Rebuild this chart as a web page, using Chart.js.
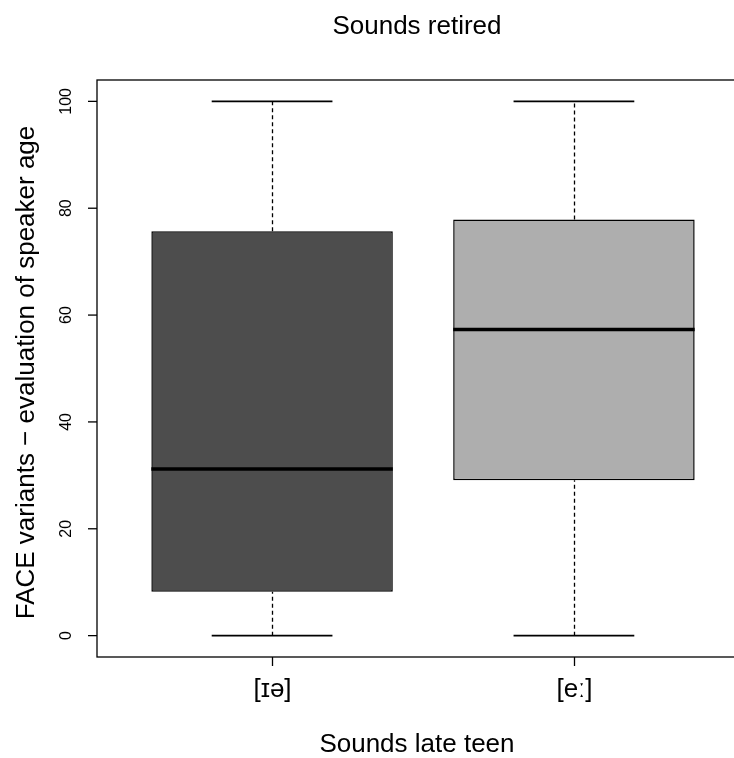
<!DOCTYPE html>
<html>
<head>
<meta charset="utf-8">
<title>Sounds retired</title>
<script src="https://cdn.jsdelivr.net/npm/chart.js@4.4.1/dist/chart.umd.min.js"></script>
<style>
  html, body { margin: 0; padding: 0; background: #fff; overflow: hidden; }
  /* the plot region runs past the right edge, so the wrapper clips it */
  #chdiv { width: 734px; height: 758px; overflow: hidden; }
</style>
</head>
<body>
<div id="chdiv"><canvas id="boxchart" width="760" height="758"></canvas></div>
<script>
// five-number summaries per group
const categories = ['[ɪə]', '[eː]'];
const whiskerLow = [0, 0];
const lowerQuartile = [8.2, 29.1];
const median = [31.2, 57.3];
const upperQuartile = [75.7, 77.9];
const whiskerHigh = [100, 100];
const yTicks = [0, 20, 40, 60, 80, 100];

const boxColors = ['#4d4d4d', '#aeaeae'];
const FONT = '"Liberation Sans", Arial, Helvetica, sans-serif';
const STAPLE = 0.4;     // cap width in x units (half the box width)
const TICK_LEN = 9;

function line(ctx, x1, y1, x2, y2) {
    ctx.beginPath();
    ctx.moveTo(x1, y1);
    ctx.lineTo(x2, y2);
    ctx.stroke();
}

function text(ctx, str, x, y, size, angle) {
    ctx.save();
    ctx.translate(x, y);
    if (angle) ctx.rotate(angle);
    ctx.font = size + 'px ' + FONT;
    ctx.fillStyle = '#000';
    ctx.textAlign = 'center';
    ctx.textBaseline = 'middle';
    ctx.fillText(str, 0, 0);
    ctx.restore();
}

// whiskers, caps, medians and the base-graphics style frame/axes
const rBoxplot = {
    id: 'rBoxplot',
    beforeDatasetsDraw(chart) {
        const {ctx, scales: {x, y}} = chart;
        ctx.save();
        ctx.strokeStyle = '#000';
        categories.forEach((_, i) => {
            const cx = Math.round(x.getPixelForValue(i + 1)) + 0.5;
            const lo = y.getPixelForValue(whiskerLow[i]);
            const hi = y.getPixelForValue(whiskerHigh[i]);
            ctx.lineWidth = 1.3;
            ctx.setLineDash([4, 3]);
            line(ctx, cx, lo, cx, y.getPixelForValue(lowerQuartile[i]));
            line(ctx, cx, y.getPixelForValue(upperQuartile[i]), cx, hi);
            ctx.setLineDash([]);
            ctx.lineWidth = 1.8;
            const l = x.getPixelForValue(i + 1 - STAPLE / 2);
            const r = x.getPixelForValue(i + 1 + STAPLE / 2);
            line(ctx, l, lo, r, lo);
            line(ctx, l, hi, r, hi);
        });
        ctx.restore();
    },
    afterDatasetsDraw(chart) {
        const {ctx, chartArea: a, scales: {x, y}} = chart;
        ctx.save();
        ctx.strokeStyle = '#000';

        // medians
        ctx.lineWidth = 3.5;
        categories.forEach((_, i) => {
            const m = y.getPixelForValue(median[i]);
            line(ctx, x.getPixelForValue(i + 0.6), m, x.getPixelForValue(i + 1.4), m);
        });

        // frame
        ctx.lineWidth = 1.3;
        ctx.strokeRect(a.left, a.top, a.right - a.left, a.bottom - a.top);

        // y axis
        yTicks.forEach(v => {
            const py = y.getPixelForValue(v);
            line(ctx, a.left - TICK_LEN, py, a.left, py);
            text(ctx, String(v), a.left - 30, py, 16, -Math.PI / 2);
        });

        // x axis
        categories.forEach((c, i) => {
            const px = Math.round(x.getPixelForValue(i + 1)) + 0.5;
            line(ctx, px, a.bottom, px, a.bottom + TICK_LEN);
            text(ctx, c, px, a.bottom + 33, 26);
        });

        // titles
        const midX = x.getPixelForValue(1.48);
        const midY = (a.top + a.bottom) / 2 + 4;
        text(ctx, 'Sounds retired', midX, 27, 26);
        text(ctx, 'Sounds late teen', midX, 745, 26);
        text(ctx, 'FACE variants \u2212 evaluation of speaker age', 27, midY, 26, -Math.PI / 2);
        ctx.restore();
    }
};

new Chart(document.getElementById('boxchart').getContext('2d'), {
    type: 'bar',
    data: {
        datasets: [{
            data: categories.map((c, i) => ({x: i + 1, y: [lowerQuartile[i], upperQuartile[i]]})),
            backgroundColor: boxColors,
            borderColor: '#000',
            borderWidth: 1.5,
            borderSkipped: false,
            categoryPercentage: 0.8,
            barPercentage: 1
        }]
    },
    options: {
        responsive: false,
        animation: false,
        devicePixelRatio: 1,
        layout: {padding: {left: 97, right: 11, top: 80, bottom: 101}},
        scales: {
            x: {
                type: 'linear', display: false, offset: false, min: 0.42, max: 2.58,
                grid: {offset: false},
                afterBuildTicks: s => { s.ticks = categories.map((c, i) => ({value: i + 1})); }
            },
            y: {
                type: 'linear', display: false, min: -4, max: 104,
                afterBuildTicks: s => { s.ticks = yTicks.map(v => ({value: v})); }
            }
        },
        plugins: {
            legend: {display: false},
            tooltip: {enabled: false},
            title: {display: false}
        }
    },
    plugins: [rBoxplot]
});
</script>
</body>
</html>
